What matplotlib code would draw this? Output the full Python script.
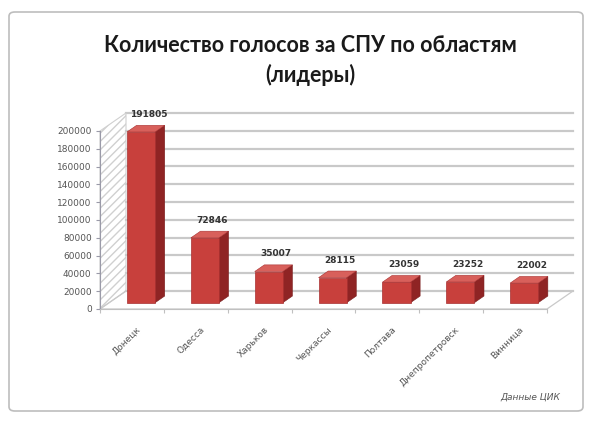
import numpy as np
import matplotlib.pyplot as plt
from matplotlib.patches import Polygon, FancyBboxPatch
from matplotlib.transforms import IdentityTransform, ScaledTranslation

# данные
regions = ['Донецк', 'Одесса', 'Харьков', 'Черкассы', 'Полтава', 'Днепропетровск', 'Винница']
votes = [191805, 72846, 35007, 28115, 23059, 23252, 22002]
yticks = list(range(0, 200001, 20000))

W, H = 591, 422
DX, DY = 26, 18          # глубина "3D" в пикселях
F0, F1 = 0.35, 0.72      # передняя / задняя грань столбцов
BW = 0.44

fig = plt.figure(figsize=(W / 100, H / 100), dpi=100)
fig.patch.set_facecolor('white')
ax = fig.add_axes([100 / W, 1 - 309 / H, 447 / W, 178 / H])
ax.set_xlim(-0.5, len(regions) - 0.5)
ax.set_ylim(0, 200000)
ax.patch.set_alpha(0)

# рамка
frame = FancyBboxPatch((9 / W, 11 / H), 574 / W, 399 / H, boxstyle='round,pad=0,rounding_size=0.01',
                       transform=fig.transFigure, facecolor='white', edgecolor='#bdbdbd', lw=1.2, zorder=-10)
fig.add_artist(frame)


def px(x, y, d=0.0):
    p = ax.transData.transform((x, y))
    return (p[0] + d * DX, p[1] + d * DY)


def poly(pts, **kw):
    p = Polygon(pts, closed=True, transform=IdentityTransform(), clip_on=False, **kw)
    ax.add_artist(p)
    return p


x0, x1 = -0.5, len(regions) - 0.5

# задняя стенка - линии сетки
for v in yticks:
    a, b = px(x0, v, 1), px(x1, v, 1)
    ax.add_artist(plt.Line2D([a[0], b[0]], [a[1], b[1]], transform=IdentityTransform(),
                             color='#c9c9c9', lw=1.6, clip_on=False, zorder=0))

# боковая стенка (штриховка)
poly([px(x0, 0), px(x0, 200000), px(x0, 200000, 1), px(x0, 0, 1)],
     facecolor='none', edgecolor='#d0d0d0', hatch='////', lw=0.8, zorder=0)
# пол
poly([px(x0, 0), px(x1, 0), px(x1, 0, 1), px(x0, 0, 1)],
     facecolor='none', edgecolor='#c9c9c9', lw=0.9, zorder=0)

# столбцы
xs = np.arange(len(regions))
shift = ScaledTranslation(F0 * DX / 100, F0 * DY / 100, fig.dpi_scale_trans)
ax.bar(xs, votes, width=BW, color='#c8403c', edgecolor='#a83030', lw=0.5,
       transform=ax.transData + shift, zorder=3, clip_on=False)
for x, v in zip(xs, votes):
    poly([px(x + BW / 2, 0, F0), px(x + BW / 2, v, F0), px(x + BW / 2, v, F1), px(x + BW / 2, 0, F1)],
         facecolor='#8f2424', edgecolor='#7a1e1e', lw=0.4, zorder=2)
    poly([px(x - BW / 2, v, F0), px(x + BW / 2, v, F0), px(x + BW / 2, v, F1), px(x - BW / 2, v, F1)],
         facecolor='#d8605b', edgecolor='#a83030', lw=0.4, zorder=2)
    tx, ty = px(x, v, (F0 + F1) / 2 + 0.1)
    ax.text(tx, ty + 8, f'{v}', transform=IdentityTransform(), ha='center', va='bottom',
            fontsize=6.5, fontweight='bold', color='#333333', family='DejaVu Sans')

# оси
for s in ['top', 'right']:
    ax.spines[s].set_visible(False)
ax.spines['left'].set_color('#9a9aa8')
ax.spines['bottom'].set_color('#c0c0c0')
ax.set_yticks(yticks)
ax.set_yticklabels([str(t) for t in yticks], fontsize=6.5, color='#555555')
ax.tick_params(axis='y', length=3, color='#9a9aa8', pad=3)
ax.set_xticks(np.arange(-0.5, len(regions), 1.0))
ax.set_xticklabels([])
ax.tick_params(axis='x', length=3, color='#c0c0c0')
for x, name in zip(xs, regions):
    tx, ty = px(x, 0)
    ax.text(tx + 4, ty - 16, name, transform=IdentityTransform(), rotation=45,
            rotation_mode='anchor', ha='right', va='top', fontsize=6.5, color='#555555')

# заголовок
fig.text(310 / W, 1 - 45 / H, 'Количество голосов за СПУ по областям', ha='center', va='center',
         fontsize=15.5, fontweight='bold', family='Lato', color='#1a1a1a')
fig.text(310 / W, 1 - 75 / H, '(лидеры)', ha='center', va='center',
         fontsize=15.5, fontweight='bold', family='Lato', color='#1a1a1a')
fig.text(530 / W, 1 - 397 / H, 'Данные ЦИК', ha='center', va='center',
         fontsize=6.5, style='italic', color='#555555')

fig.savefig('out.png', dpi=100)
